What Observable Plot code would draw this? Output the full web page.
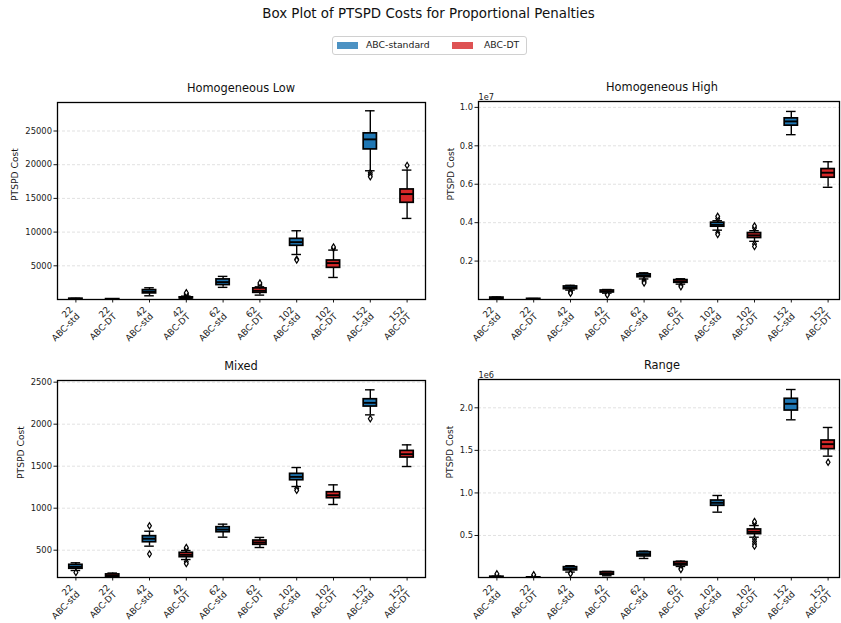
<!DOCTYPE html>
<html>
<head>
<meta charset="utf-8">
<script src="https://cdn.jsdelivr.net/npm/d3@7"></script>
<script src="https://cdn.jsdelivr.net/npm/@observablehq/plot@0.6"></script>
<style>
  body { margin: 0; background: white; font-family: "DejaVu Sans", sans-serif; }
  #root { position: relative; width: 841px; height: 623px; overflow: hidden; background: white; }
  .abs { position: absolute; }
  .title { left: 8px; width: 841px; top: 6px; text-align: center; font-size: 13.4px; line-height: 16px; color: #111; }
  .ptitle { font-size: 11.4px; line-height: 14px; text-align: center; color: #111; }
  .legend { left: 332px; top: 36px; width: 193px; height: 17px; border: 1px solid #d0d0d0; border-radius: 3px; font-size: 9.3px; color: #222; }
  .sw { position: absolute; top: 5px; width: 21px; height: 7px; }
  .lt { position: absolute; top: 2px; line-height: 12px; }
</style>
</head>
<body>
<div id="root"></div>
<script>
// ---- data ----
const xLabels = ["22\nABC-std","22\nABC-DT","42\nABC-std","42\nABC-DT","62\nABC-std","62\nABC-DT","102\nABC-std","102\nABC-DT","152\nABC-std","152\nABC-DT"];
const boxMethods = ["ABC-standard","ABC-DT","ABC-standard","ABC-DT","ABC-standard","ABC-DT","ABC-standard","ABC-DT","ABC-standard","ABC-DT"];
const legendNames = ["ABC-standard","ABC-DT"];
const legendColors = ["#1f77b4","#d62728"];
const panelTitles = ["Homogeneous Low","Homogeneous High","Mixed","Range"];

// [whisker low, Q1, median, Q3, whisker high]
const lowStats = [[30,70,90,120,170],[10,30,40,55,80],[550,905,1140,1395,1740],[40,160,230,320,500],[1800,2140,2580,2980,3430],[650,990,1290,1650,1880],[6680,7970,8510,9000,10200],[3270,4700,5400,5790,7330],[19100,22270,23760,24650,28000],[12030,14350,15640,16330,19200]];
const lowOutliers = [[],[],[],[600,750,900,1000],[],[2150,2450],[5990,5850],[7600,7800],[18800,18500,18200],[19900]];
const lowTicks = [5000,10000,15000,20000,25000];

const highStats = [[20000,45000,70000,100000,130000],[5000,15000,25000,35000,50000],[490000,540000,610000,680000,740000],[330000,370000,420000,470000,520000],[1070000,1160000,1240000,1310000,1390000],[800000,870000,940000,1010000,1080000],[3610000,3790000,3890000,4000000,4100000],[3030000,3200000,3340000,3460000,3580000],[8580000,9050000,9270000,9430000,9790000],[5840000,6340000,6600000,6790000,7170000]];
const highOutliers = [[],[],[430000,370000,330000],[270000,240000],[1000000,920000,860000],[730000,660000],[4220000,4330000,3480000,3380000],[3720000,3830000,2890000,2760000],[],[]];
const highTicks = [2e6,4e6,6e6,8e6,10e6];

const mixedStats = [[258,279,302,326,350],[170,185,198,212,228],[548,595,636,667,726],[389,417,445,469,496],[655,714,746,774,810],[532,564,592,615,652],[1258,1333,1373,1409,1484],[1044,1119,1155,1190,1278],[2111,2210,2254,2297,2409],[1496,1603,1643,1682,1754]];
const mixedOutliers = [[234],[],[790,455],[517,533,362,340],[],[],[1235,1212],[],[2065],[]];
const mixedTicks = [500,1000,1500,2000,2500];

const rangeStats = [[3000,8000,12000,16000,22000],[2000,4000,6000,8000,12000],[70000,90000,110000,128000,145000],[27000,39000,54000,69000,78000],[230000,254000,281000,304000,316000],[136000,148000,168000,187000,199000],[774000,849000,884000,911000,970000],[480000,516000,543000,571000,617000],[1859000,1968000,2047000,2106000,2215000],[1432000,1514000,1573000,1616000,1769000]];
const rangeOutliers = [[35000,50000],[25000,40000],[60000,50000],[],[],[116000,100000],[],[645000,665000,460000,430000,400000,375000],[],[1361000]];
const rangeTicks = [0.5e6,1.0e6,1.5e6,2.0e6];

// ---- drawing ----
const root = document.getElementById("root");
function addDiv(cls, style, html) {
  const d = document.createElement("div");
  d.className = "abs " + cls;
  Object.assign(d.style, style);
  d.innerHTML = html;
  root.appendChild(d);
  return d;
}
addDiv("title", {}, "Box Plot of PTSPD Costs for Proportional Penalties");
const leg = addDiv("legend", {}, "");
leg.innerHTML =
  `<div class="sw" style="left:4px;background:${legendColors[0]};opacity:0.8"></div>` +
  `<div class="lt" style="left:33px">${legendNames[0]}</div>` +
  `<div class="sw" style="left:119px;background:${legendColors[1]};opacity:0.8"></div>` +
  `<div class="lt" style="left:151px">${legendNames[1]}</div>`;

const thinDiamond = {
  draw(context, size) {
    const h = Math.sqrt(size) * 0.62;
    const w = h * 0.62;
    context.moveTo(0, -h); context.lineTo(w, 0); context.lineTo(0, h); context.lineTo(-w, 0); context.closePath();
  }
};

const BOXW = 0.18, CAPW = 0.13;

function panel(cfg) {
  const rows = cfg.stats.map((s, i) => ({x: i + 1, lo: s[0], q1: s[1], med: s[2], q3: s[3], hi: s[4], method: boxMethods[i]}));
  const outRows = cfg.outliers.flatMap((arr, i) => arr.map(v => ({x: i + 1, v})));
  const step = 36.8;
  const chart = Plot.plot({
    width: cfg.width, height: cfg.height,
    marginTop: cfg.mt, marginLeft: cfg.ml, marginRight: cfg.mr, marginBottom: cfg.mb,
    style: {fontFamily: "DejaVu Sans", fontSize: "8.4px", color: "#1a1a1a", background: "transparent", overflow: "visible"},
    x: {domain: [0.5, 10.5], range: [cfg.ml, cfg.ml + 10 * step]},
    y: {domain: cfg.domain},
    color: {domain: legendNames, range: legendColors},
    marks: [
      Plot.gridY(cfg.ticks, {stroke: "#aaa", strokeOpacity: 0.6, strokeDasharray: "3,2", strokeWidth: 0.6}),
      Plot.axisY({ticks: cfg.ticks, tickFormat: cfg.fmt, tickSize: 3.5, tickPadding: 2, label: null, fontSize: 8.4}),
      Plot.axisX({ticks: d3.range(1, 11), tickFormat: () => "", tickSize: 3.5, label: null}),
      Plot.text(xLabels, {x: (d, i) => i + 1, text: d => d, frameAnchor: "bottom", rotate: -45, textAnchor: "end", lineAnchor: "top", lineHeight: 1.05, dx: -7, dy: 6, fontSize: 8.9}),
      Plot.ruleX(rows, {x: "x", y1: "lo", y2: "q1", stroke: "black", strokeWidth: 1.4, clip: true}),
      Plot.ruleX(rows, {x: "x", y1: "q3", y2: "hi", stroke: "black", strokeWidth: 1.4, clip: true}),
      Plot.ruleY(rows, {y: "lo", x1: d => d.x - CAPW, x2: d => d.x + CAPW, stroke: "black", strokeWidth: 1.4, clip: true}),
      Plot.ruleY(rows, {y: "hi", x1: d => d.x - CAPW, x2: d => d.x + CAPW, stroke: "black", strokeWidth: 1.4, clip: true}),
      Plot.rect(rows, {x1: d => d.x - BOXW, x2: d => d.x + BOXW, y1: "q1", y2: "q3", fill: "method", stroke: "black", strokeWidth: 1.7, clip: true}),
      Plot.ruleY(rows, {y: "med", x1: d => d.x - BOXW, x2: d => d.x + BOXW, stroke: "black", strokeWidth: 1.9, clip: true}),
      Plot.dot(outRows, {x: "x", y: "v", symbol: thinDiamond, r: 2.8, fill: "white", stroke: "black", strokeWidth: 1.2, clip: true}),
      Plot.frame({stroke: "black", strokeWidth: 1.3}),
      Plot.text(["PTSPD Cost"], {frameAnchor: "left", rotate: -90, dx: cfg.labelDx, fontSize: 9.2}),
      cfg.offset ? Plot.text([cfg.offset], {frameAnchor: "top-left", textAnchor: "start", lineAnchor: "bottom", dy: -2, fontSize: 8.2}) : null
    ]
  });
  chart.style.position = "absolute";
  chart.style.left = cfg.left + "px";
  chart.style.top = cfg.top + "px";
  root.appendChild(chart);
  const frameCenter = cfg.left + cfg.ml + 5 * step;
  addDiv("ptitle", {left: (frameCenter - 100) + "px", width: "200px", top: (cfg.top + cfg.mt - 21) + "px"}, cfg.title);
}

panel({title: panelTitles[0], stats: lowStats, outliers: lowOutliers, ticks: lowTicks, fmt: d => String(d),
  domain: [0, 29230], left: 0, top: 90, width: 430, height: 259, ml: 57, mr: 5, mt: 12, mb: 50, labelDx: -42});
panel({title: panelTitles[1], stats: highStats, outliers: highOutliers, ticks: highTicks, fmt: d => (d / 1e7).toFixed(1),
  domain: [0, 1.0307e7], left: 420, top: 90, width: 421, height: 259, ml: 58, mr: 2, mt: 11, mb: 50, labelDx: -27, offset: "1e7"});
panel({title: panelTitles[2], stats: mixedStats, outliers: mixedOutliers, ticks: mixedTicks, fmt: d => String(d),
  domain: [175, 2520], left: 0, top: 365, width: 430, height: 258, ml: 57, mr: 5, mt: 15, mb: 46, labelDx: -36});
panel({title: panelTitles[3], stats: rangeStats, outliers: rangeOutliers, ticks: rangeTicks, fmt: d => (d / 1e6).toFixed(1),
  domain: [6500, 2.3326e6], left: 420, top: 365, width: 421, height: 258, ml: 58, mr: 2, mt: 14, mb: 46, labelDx: -28, offset: "1e6"});
</script>
</body>
</html>
